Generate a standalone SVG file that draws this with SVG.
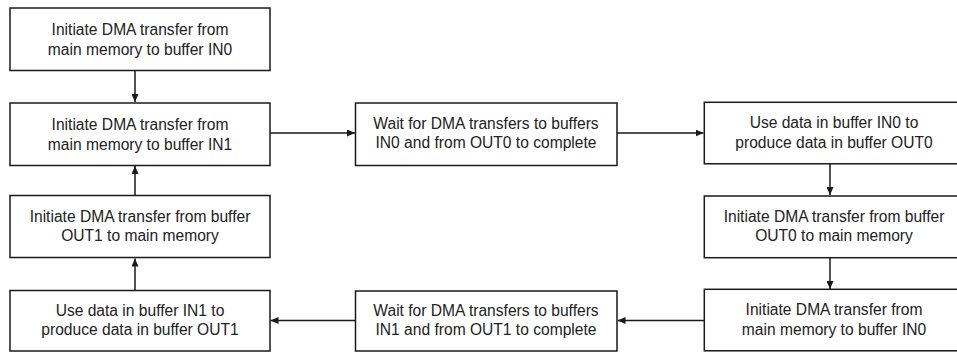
<svg xmlns="http://www.w3.org/2000/svg" width="957" height="352" viewBox="0 0 957 352">
<defs>
<marker id="ah" markerWidth="8" markerHeight="7" refX="8" refY="3.5" orient="auto" markerUnits="userSpaceOnUse">
<path d="M0,0 L8,3.5 L0,7 Z" fill="#1a1a1a"/>
</marker>
<style>
.box{fill:#fff;stroke:#1a1a1a;stroke-width:1.5}
.t{font-family:"Liberation Sans",Arial,Helvetica,sans-serif;font-size:15.6px;fill:#222;text-anchor:middle}
.c{fill:none;stroke:#1a1a1a;stroke-width:1.5;marker-end:url(#ah)}
</style>
</defs>
<rect width="957" height="352" fill="#fff"/>
<g id="connectors">
<line class="c" x1="135" y1="71" x2="135" y2="102"/>
<line class="c" x1="270" y1="133" x2="355" y2="133"/>
<line class="c" x1="617" y1="133" x2="703.5" y2="133"/>
<line class="c" x1="830" y1="164" x2="830" y2="195"/>
<line class="c" x1="830" y1="258" x2="830" y2="289"/>
<line class="c" x1="704" y1="320.5" x2="617.5" y2="320.5"/>
<line class="c" x1="355.5" y1="320.5" x2="270.5" y2="320.5"/>
<line class="c" x1="135" y1="290" x2="135" y2="258.5"/>
<line class="c" x1="135" y1="196" x2="135" y2="166"/>
</g>
<g id="n1"><rect class="box" x="10" y="8" width="260" height="62.5"/>
<text class="t" x="140" y="35">Initiate DMA transfer from</text><text class="t" x="140" y="54.5">main memory to buffer IN0</text></g>
<g id="n2"><rect class="box" x="10" y="103" width="260" height="62.5"/>
<text class="t" x="140" y="130">Initiate DMA transfer from</text><text class="t" x="140" y="149.5">main memory to buffer IN1</text></g>
<g id="n3"><rect class="box" x="355.5" y="103" width="261.5" height="62.5"/>
<text class="t" x="486" y="128.5">Wait for DMA transfers to buffers</text><text class="t" x="486" y="148">IN0 and from OUT0 to complete</text></g>
<g id="n4"><rect class="box" x="704.3" y="102.3" width="260" height="61.5"/>
<text class="t" x="834" y="128">Use data in buffer IN0 to</text><text class="t" x="834" y="147.5">produce data in buffer OUT0</text></g>
<g id="n5"><rect class="box" x="704.3" y="196" width="260" height="61.7"/>
<text class="t" x="834" y="221.5">Initiate DMA transfer from buffer</text><text class="t" x="834" y="241">OUT0 to main memory</text></g>
<g id="n6"><rect class="box" x="704.3" y="289.3" width="260" height="61.5"/>
<text class="t" x="834" y="315">Initiate DMA transfer from</text><text class="t" x="834" y="334.5">main memory to buffer IN0</text></g>
<g id="n7"><rect class="box" x="355.5" y="291" width="261.5" height="60"/>
<text class="t" x="486" y="315.5">Wait for DMA transfers to buffers</text><text class="t" x="486" y="335">IN1 and from OUT1 to complete</text></g>
<g id="n8"><rect class="box" x="10" y="290.5" width="260" height="60.5"/>
<text class="t" x="140" y="315.5">Use data in buffer IN1 to</text><text class="t" x="140" y="335">produce data in buffer OUT1</text></g>
<g id="n9"><rect class="box" x="10" y="195.5" width="260" height="62"/>
<text class="t" x="140" y="221.5">Initiate DMA transfer from buffer</text><text class="t" x="140" y="241">OUT1 to main memory</text></g>
</svg>
